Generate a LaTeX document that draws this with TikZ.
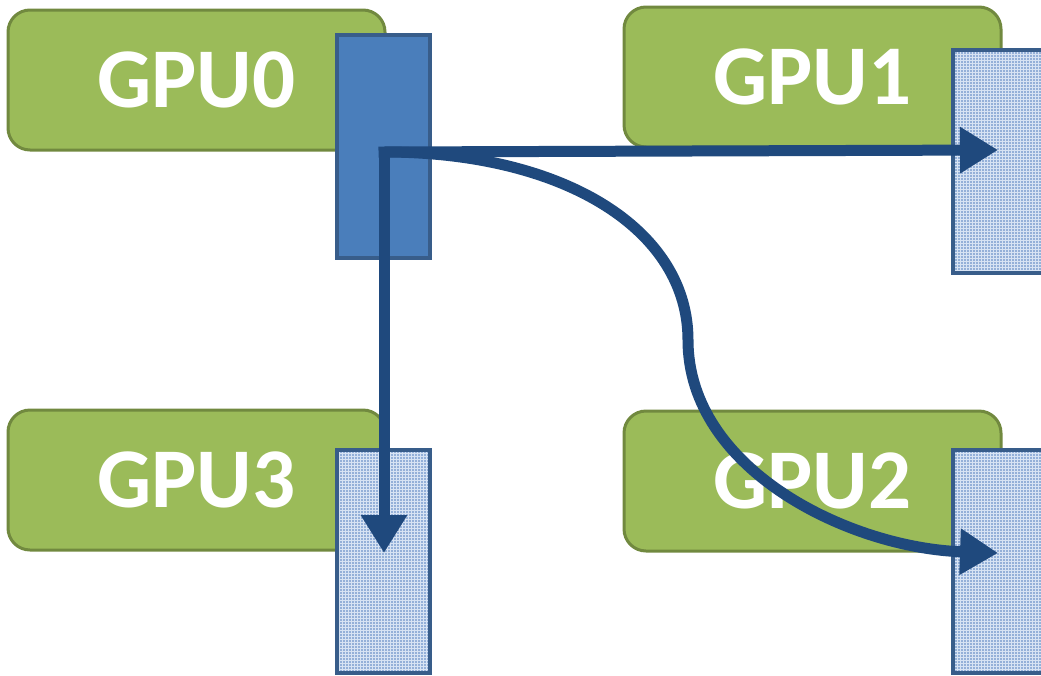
\documentclass[tikz,border=0pt]{standalone}
\usepackage{fontspec}
\setmainfont{Carlito}
\usetikzlibrary{arrows.meta,patterns}
\definecolor{gpugreen}{RGB}{155,187,89}
\definecolor{gpugreenD}{RGB}{113,137,63}
\definecolor{bufblue}{RGB}{74,126,187}
\definecolor{bufblueD}{RGB}{56,93,138}
\definecolor{buflight}{RGB}{148,176,216}
\definecolor{bufgrid}{RGB}{215,227,243}
\definecolor{arrowblue}{RGB}{31,73,125}
\tikzset{
  gpubox/.style={draw=gpugreenD, line width=3pt, fill=gpugreen, rounded corners=22pt,
    minimum width=377pt, minimum height=140pt, inner sep=0pt,
    text=white, font=\fontsize{85}{90}\selectfont\bfseries},
  srcbuf/.style={draw=bufblueD, line width=4pt, fill=bufblue, minimum width=93pt, minimum height=223pt, inner sep=0pt},
  dstbuf/.style={fill=buflight, minimum width=93pt, minimum height=223pt, inner sep=0pt,
    postaction={pattern=grid, pattern color=bufgrid},
    postaction={draw=bufblueD, line width=4pt}},
  xfer/.style={draw=arrowblue, line width=11pt, line cap=rect, -{Triangle[width=44pt,length=38pt]}}
}
\begin{document}
\begin{tikzpicture}[x=1pt,y=-1pt]
\useasboundingbox (0,0) rectangle (1041,675);
% GPU boxes
\node[gpubox] (g0) at (196.5,80) {GPU0};
\node[gpubox] (g1) at (812.5,77) {GPU1};
\node[gpubox] (g3) at (196.5,480) {GPU3};
\node[gpubox] (g2) at (812.5,481) {GPU2};
% buffers
\node[srcbuf] (b0) at (383.5,146.5) {};
\node[dstbuf] (b1) at (999.5,161.5) {};
\node[dstbuf] (b3) at (383.5,561.5) {};
\node[dstbuf] (b2) at (999.5,561.5) {};
% transfer arrows
\coordinate (s) at (384,152);
\coordinate (t1) at (998,150);
\coordinate (t3) at (384,553);
\coordinate (mid) at (688,340);
\coordinate (t2) at (998,553);
\draw[xfer] (s) -- (t1);
\draw[xfer] (s) -- (t3);
\draw[xfer, line cap=butt] (s) .. controls (565,152) and (688,230) .. (mid)
  .. controls (688,470) and (850,548) .. (t2);
\end{tikzpicture}
\end{document}
